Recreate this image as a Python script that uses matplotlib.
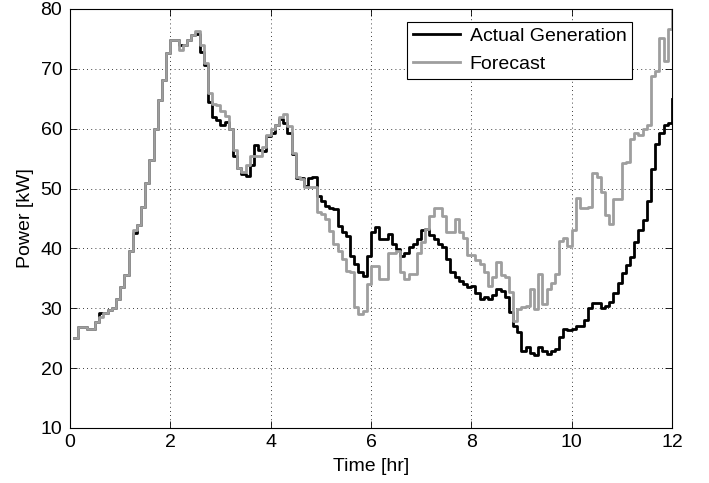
import numpy as np
import matplotlib
matplotlib.use("Agg")
import matplotlib.pyplot as plt

# 5-minute samples, k = 1..144 (t = k/12 hr)
actual = [
    25.0, 26.8, 26.8, 26.5, 26.5, 27.7, 29.2, 29.2, 29.7, 30.0, 31.5, 33.5,
    35.5, 39.5, 42.5, 43.9, 47.0, 50.9, 54.7, 60.0, 64.8, 68.1, 72.6, 74.9,
    74.8, 74.0, 74.0, 74.8, 75.6, 75.8, 72.8, 70.6, 64.4, 62.0, 61.4, 60.7,
    61.2, 59.9, 55.4, 53.5, 52.4, 52.1, 54.0, 57.2, 56.5, 56.2, 58.8, 59.3,
    60.7, 61.6, 61.0, 59.3, 55.7, 51.8, 51.8, 50.5, 51.8, 52.0, 48.8, 47.9,
    47.1, 46.8, 46.6, 43.8, 42.7, 42.0, 38.8, 37.4, 36.0, 35.4, 38.8, 42.7,
    43.5, 41.6, 41.6, 42.4, 40.7, 39.9, 38.8, 39.3, 40.2, 40.7, 41.6, 43.0,
    43.3, 42.2, 41.6, 40.7, 40.2, 38.3, 36.0, 35.2, 34.6, 34.1, 33.5, 33.8,
    32.5, 31.6, 31.8, 31.6, 32.2, 33.3, 32.9, 31.8, 29.3, 27.1, 26.0, 22.9,
    23.5, 22.6, 22.2, 23.5, 22.9, 22.4, 22.8, 23.2, 25.2, 26.6, 26.3, 26.5,
    27.0, 27.0, 28.1, 30.0, 30.8, 30.8, 30.1, 30.4, 31.0, 32.6, 34.2, 35.9,
    37.2, 38.6, 41.0, 43.1, 44.8, 47.9, 53.2, 57.4, 59.3, 60.7, 61.0, 64.9,
]
forecast = [
    25.0, 26.8, 26.8, 26.5, 26.5, 27.7, 28.6, 29.2, 29.7, 30.0, 31.5, 33.5,
    35.5, 39.5, 43.0, 43.9, 47.0, 50.9, 54.7, 60.0, 64.8, 68.1, 72.6, 74.9,
    74.8, 73.1, 74.0, 74.8, 75.6, 76.3, 74.0, 71.0, 66.0, 64.2, 64.0, 63.0,
    62.1, 60.0, 56.5, 53.5, 52.8, 54.0, 55.4, 55.4, 55.5, 57.0, 59.0, 60.0,
    60.7, 62.0, 62.4, 60.4, 56.0, 52.0, 51.6, 50.2, 50.3, 50.2, 46.0, 45.7,
    44.9, 42.9, 40.7, 39.5, 38.2, 36.3, 36.0, 30.2, 29.0, 29.6, 34.0, 37.1,
    37.1, 34.9, 34.9, 39.3, 39.3, 39.6, 36.0, 34.9, 35.7, 35.7, 39.3, 41.0,
    43.3, 45.4, 46.8, 46.8, 45.4, 42.7, 42.7, 44.9, 42.7, 41.8, 38.9, 38.9,
    38.0, 37.4, 36.0, 33.8, 35.2, 37.7, 35.6, 35.2, 32.7, 27.9, 29.9, 30.2,
    30.4, 33.2, 29.8, 35.7, 30.7, 33.2, 34.3, 35.7, 41.3, 41.8, 40.4, 43.0,
    48.5, 46.8, 46.8, 47.0, 52.6, 52.0, 49.5, 45.5, 44.0, 48.2, 48.2, 54.3,
    54.5, 58.2, 59.3, 59.0, 60.0, 60.7, 68.8, 69.6, 75.2, 71.3, 76.6, 80.0,
]
t = np.arange(1, len(actual) + 1) / 12.0

plt.rcParams["font.family"] = ["Liberation Sans", "DejaVu Sans"]
plt.rcParams["font.size"] = 14

fig = plt.figure(figsize=(7.09, 4.83), dpi=100)
ax = fig.add_axes([0.0987, 0.1139, 0.849, 0.8675])

ax.step(t, actual, where="post", color="black", lw=2.0, label="Actual Generation")
ax.step(t, forecast, where="post", color="0.62", lw=2.0, label="Forecast")

ax.set_xlim(0, 12)
ax.set_ylim(10, 80)
ax.set_xticks(range(0, 13, 2))
ax.set_yticks(range(10, 81, 10))
ax.grid(True, linestyle=(0, (1, 4)), color="black", lw=0.6)
ax.tick_params(axis="y", direction="in", left=True, right=True, length=5, width=0.6,
               labelsize=14, pad=5.5)
ax.tick_params(axis="x", direction="in", bottom=True, top=True, length=5, width=0.6,
               labelsize=14, pad=4.5)
for s in ax.spines.values():
    s.set_linewidth(0.8)

ax.set_xlabel("Time [hr]", fontsize=14, labelpad=5)
ax.set_ylabel("Power [kW]", fontsize=14, labelpad=5)

leg = ax.legend(loc="upper right", bbox_to_anchor=(0.934, 0.970), borderaxespad=0,
                fontsize=14, fancybox=False, framealpha=1, edgecolor="black",
                handlelength=2.4, handletextpad=0.5, borderpad=0.3,
                labelspacing=0.55)
leg.get_frame().set_linewidth(0.8)

fig.savefig("out.png", dpi=100)
